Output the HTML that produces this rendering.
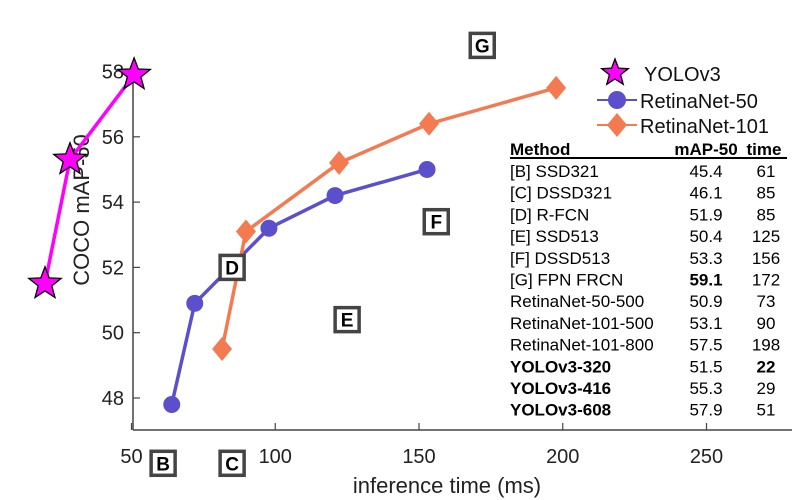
<!DOCTYPE html>
<html><head><meta charset="utf-8">
<style>
html,body{margin:0;padding:0;background:#fff;}
svg{display:block;font-family:"Liberation Sans",Arial,sans-serif;}
</style></head>
<body>
<svg id="chart" width="792" height="500" viewBox="0 0 792 500" xmlns="http://www.w3.org/2000/svg">
<g id="axes"></g>
<g id="series"></g>
<g id="letters"></g>
<g id="legend"></g>
<g id="table"></g>
</svg>
<script>
const xTicks = [50, 100, 150, 200, 250];
const yTicks = [48, 50, 52, 54, 56, 58];
const yoloTime = [19.9, 28.6, 50.9];
const yoloMap = [51.5, 55.3, 57.9];
const r50Time = [64, 72, 97.8, 120.8, 152.8];
const r50Map = [47.8, 50.9, 53.2, 54.2, 55.0];
const r101Time = [81.5, 89.8, 122.2, 153.5, 197.7];
const r101Map = [49.5, 53.1, 55.2, 56.4, 57.5];
const letterNames = ["B", "C", "D", "E", "F", "G"];
const letterTime = [61, 85, 85, 125, 156, 172];
const letterMap = [46.0, 46.0, 52.0, 50.4, 53.4, 58.8];
const tableMethods = ["[B] SSD321","[C] DSSD321","[D] R-FCN","[E] SSD513","[F] DSSD513","[G] FPN FRCN","RetinaNet-50-500","RetinaNet-101-500","RetinaNet-101-800","YOLOv3-320","YOLOv3-416","YOLOv3-608"];
const tableMap = ["45.4","46.1","51.9","50.4","53.3","59.1","50.9","53.1","57.5","51.5","55.3","57.9"];
const tableTime = ["61","85","85","125","156","172","73","90","198","22","29","51"];

const NS = "http://www.w3.org/2000/svg";
const X = t => 131.5 + (t - 50) * 2.875;
const Y = m => 398 - (m - 48) * 32.65;
function el(tag, attrs, parent, text){
  const e = document.createElementNS(NS, tag);
  for (const k in attrs) e.setAttribute(k, attrs[k]);
  if (text !== undefined) e.textContent = text;
  parent.appendChild(e);
  return e;
}
const axes = document.getElementById('axes');
let a = el('line',{x1:133,y1:68,x2:133,y2:430,stroke:'#444','stroke-width':1.5},axes);


a = el('line',{x1:133,y1:430,x2:792,y2:430,stroke:'#444','stroke-width':1.5},axes);


xTicks.forEach(t=>{
  const tk = el('line',{x1:X(t),y1:430,x2:X(t),y2:423,stroke:'#444','stroke-width':1.2},axes);
  
  
  const lb = el('text',{x:X(t),y:463,'font-size':20,'text-anchor':'middle',fill:'#222'},axes,String(t));
  
  
});
yTicks.forEach(m=>{
  const tk = el('line',{x1:133,y1:Y(m),x2:140,y2:Y(m),stroke:'#444','stroke-width':1.2},axes);
  
  
  const lb = el('text',{x:124,y:Y(m)+7,'font-size':20,'text-anchor':'end',fill:'#222'},axes,String(m));
  
  
});
a = el('text',{x:447,y:493,'font-size':22,'text-anchor':'middle',fill:'#222'},axes,'inference time (ms)');


a = el('text',{x:0,y:0,'font-size':22,'text-anchor':'middle',fill:'#222',transform:'translate(89,210) rotate(-90)'},axes,'COCO mAP-50');



const series = document.getElementById('series');
function starPath(cx,cy,R){
  const r = R*0.42; let d='';
  for(let i=0;i<10;i++){
    const ang = -Math.PI/2 + i*Math.PI/5;
    const rr = i%2?r:R;
    d += (i?'L':'M') + (cx+rr*Math.cos(ang)).toFixed(1)+','+(cy+rr*Math.sin(ang)).toFixed(1);
  }
  return d+'Z';
}
function diamond(cx,cy){ return `M${cx},${cy-12}L${cx+10},${cy}L${cx},${cy+12}L${cx-10},${cy}Z`; }
function poly(ts,ms,color,name){
  const p = el('polyline',{points:ts.map((t,i)=>X(t)+','+Y(ms[i])).join(' '),fill:'none',stroke:color,'stroke-width':3.5},series);
  
  
}
poly(r50Time,r50Map,'#5b4fcb','retinanet-50-line');
r50Time.forEach((t,i)=>{
  const c = el('circle',{cx:X(t),cy:Y(r50Map[i]),r:8.5,fill:'#5b4fcb'},series);
  
  
});
poly(r101Time,r101Map,'#f47a52','retinanet-101-line');
r101Time.forEach((t,i)=>{
  const d = el('path',{d:diamond(X(t),Y(r101Map[i])),fill:'#f47a52'},series);
  
  
});
poly(yoloTime,yoloMap,'#ff00ff','yolov3-line');
yoloTime.forEach((t,i)=>{
  const s = el('path',{d:starPath(X(t),Y(yoloMap[i]),17),fill:'#ff00ff',stroke:'#000','stroke-width':1.3},series);
  
  
});

const letters = document.getElementById('letters');
letterNames.forEach((n,i)=>{
  const cx = X(letterTime[i]), cy = Y(letterMap[i]);
  const r = el('rect',{x:cx-12,y:cy-12,width:24,height:24,fill:'#fff',stroke:'#444','stroke-width':3.5},letters);
  
  
  const t = el('text',{x:cx,y:cy+7,'font-size':19,'font-weight':'bold','text-anchor':'middle',fill:'#000'},letters,n);
  
  
});

const legend = document.getElementById('legend');
let g = el('path',{d:starPath(615,73,14),fill:'#ff00ff',stroke:'#000','stroke-width':1.3},legend);


g = el('text',{x:644,y:81,'font-size':20,fill:'#111'},legend,'YOLOv3');


g = el('line',{x1:597,y1:100,x2:637,y2:100,stroke:'#5b4fcb','stroke-width':2},legend);


g = el('circle',{cx:617,cy:100,r:9,fill:'#5b4fcb'},legend);


g = el('text',{x:640,y:108,'font-size':20,fill:'#111'},legend,'RetinaNet-50');


g = el('line',{x1:597,y1:125,x2:637,y2:125,stroke:'#f47a52','stroke-width':2},legend);


g = el('path',{d:diamond(617,125),fill:'#f47a52'},legend);


g = el('text',{x:640,y:133,'font-size':20,fill:'#111'},legend,'RetinaNet-101');



const table = document.getElementById('table');
g = el('text',{x:510,y:155,'font-size':17,'font-weight':'bold',fill:'#000'},table,'Method');


g = el('text',{x:706,y:155,'font-size':17,'font-weight':'bold','text-anchor':'middle',fill:'#000'},table,'mAP-50');


g = el('text',{x:764,y:155,'font-size':17,'font-weight':'bold','text-anchor':'middle',fill:'#000'},table,'time');


g = el('line',{x1:510,y1:158,x2:787,y2:158,stroke:'#000','stroke-width':2},table);


tableMethods.forEach((m,i)=>{
  const y = 177 + i*21.7;
  const yolo = m.startsWith('YOLO');
  const t1 = el('text',{x:510,y:y,'font-size':17,'font-weight':yolo?'bold':'normal',fill:'#000'},table,m);
  
  
  const t2 = el('text',{x:706,y:y,'font-size':17,'font-weight':(i===5)?'bold':'normal','text-anchor':'middle',fill:'#000'},table,tableMap[i]);
  
  
  const t3 = el('text',{x:766,y:y,'font-size':17,'font-weight':(i===9)?'bold':'normal','text-anchor':'middle',fill:'#000'},table,tableTime[i]);
  
  
});
</script>
</body></html>
